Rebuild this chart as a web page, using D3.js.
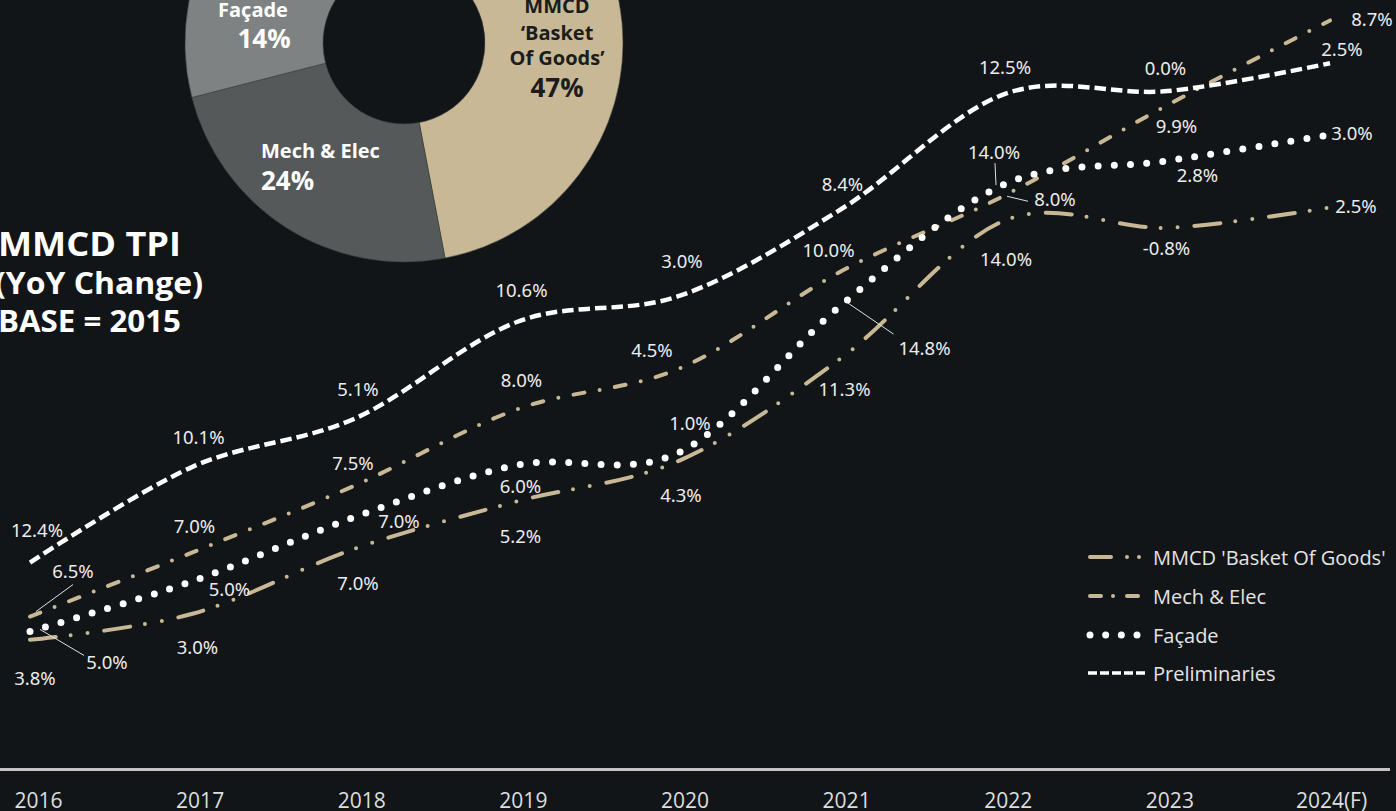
<!DOCTYPE html>
<html><head><meta charset="utf-8">
<script src="https://cdn.jsdelivr.net/npm/d3@7"></script>
<style>
html,body{margin:0;padding:0;background:#121517;overflow:hidden;}
svg{display:block;}
</style></head><body>
<svg id="chart" width="1396" height="811"></svg>
<script>
// ---------- data ----------
const years = ["2016","2017","2018","2019","2020","2021","2022","2023","2024(F)"];
const seriesNames = ["MMCD 'Basket Of Goods'","Mech & Elec","Façade","Preliminaries"];
// cumulative index (base 2015 = 100)
const basketValues = [104.0,106.8,113.8,118.9,123.3,134.4,149.1,148.3,150.5];
const mechValues   = [106.5,113.4,120.6,128.8,133.2,143.7,151.8,161.5,170.6];
const facadeValues = [104.9,110.3,117.2,122.8,124.2,140.1,153.0,155.5,158.3];
const prelimValues = [112.3,122.6,127.8,138.2,141.0,150.4,162.7,163.0,166.0];
// YoY labels
const basketLabels = ["3.8%","3.0%","7.0%","5.2%","4.3%","11.3%","14.0%","-0.8%","2.5%"];
const mechLabels   = ["6.5%","7.0%","7.5%","8.0%","4.5%","10.0%","8.0%","9.9%","8.7%"];
const facadeLabels = ["5.0%","5.0%","7.0%","6.0%","1.0%","14.8%","14.0%","2.8%","3.0%"];
const prelimLabels = ["12.4%","10.1%","5.1%","10.6%","3.0%","8.4%","12.5%","0.0%","2.5%"];
// cost share donut
const shareCategories = ["MMCD ‘Basket Of Goods’","Mech & Elec","Façade","Preliminaries"];
const shareValues = [47,24,14,15];

// ---------- layout / style ----------
const bg = "#121517", tan = "#c8b896";
const svg = d3.select("#chart");
svg.append("rect").attr("width",1396).attr("height",811).attr("fill",bg);

// donut
const donutCx = 404, donutCy = 43;
const pie = d3.pie().sort(null).value(d=>d);
const arc = d3.arc().innerRadius(81).outerRadius(219);
const sliceColors = [tan,"#56595a","#7f8283","#a6a9aa"];
const dg = svg.append("g").attr("transform",`translate(${donutCx},${donutCy})`);
dg.selectAll("path").data(pie(shareValues)).join("path")
  .attr("d",arc).attr("fill",(d,i)=>sliceColors[i])
  .attr("stroke","#3c3f40").attr("stroke-width",0.6);

const bold = "'Open Sans', 'Noto Sans', sans-serif";
function txt(x,y,s,size,fill,anchor){
  return svg.append("text").attr("x",x).attr("y",y).text(s)
    .attr("font-family",bold).attr("font-weight",700).attr("font-size",size)
    .attr("fill",fill).attr("text-anchor",anchor||"start");
}
txt(253,17,"Façade",20,"#fff","middle");
txt(264,48,"14%",26,"#fff","middle");
txt(261,158,"Mech & Elec",20,"#fff");
txt(261,190,"24%",26,"#fff");
txt(557,13,"MMCD",20,"#1b1c1d","middle");
txt(557,40,"‘Basket",20,"#1b1c1d","middle");
txt(557,65,"Of Goods’",20,"#1b1c1d","middle");
txt(557,97,"47%",26,"#1b1c1d","middle");

// title
txt(-2,256,"MMCD TPI",34,"#fff").attr("textLength",183).attr("lengthAdjust","spacingAndGlyphs");
txt(-5,294,"(YoY Change)",30,"#fff").attr("textLength",208).attr("lengthAdjust","spacingAndGlyphs");
txt(-2,332,"BASE = 2015",30,"#fff").attr("textLength",183).attr("lengthAdjust","spacingAndGlyphs");

// scales
const x = d3.scalePoint().domain(years).range([30,1330]);
const xAxisScale = d3.scalePoint().domain(years).range([38,1331]);
const y = d3.scaleLinear().domain([100,170]).range([677,26]);

// axis
svg.append("line").attr("x1",0).attr("x2",1390).attr("y1",769.5).attr("y2",769.5)
  .attr("stroke","#c4c4c4").attr("stroke-width",3);
const ax = svg.append("g").attr("transform","translate(0,769)")
  .call(d3.axisBottom(xAxisScale).tickSize(0).tickPadding(0));
ax.select(".domain").remove();
ax.selectAll("text").attr("y",39).attr("dy",0)
  .attr("font-family","'Open Sans', sans-serif").attr("font-weight",400)
  .attr("font-size",21).attr("fill","#dedede");

// series
const series = [
  {name:seriesNames[0], values:basketValues, labels:basketLabels, color:tan, width:4, dash:"26,15,0,17,0,17", cap:"round",
   off:[[5,38],[5,33],[3,34],[3,34],[1,34],[2,31],[1,38],[-1,20],[26,-2]]},
  {name:seriesNames[1], values:mechValues, labels:mechLabels, color:tan, width:4, dash:"11,15.5,0,15.5", cap:"round",
   off:[[43,-46],[2,-27],[-2,-23],[4,-30],[-28,-19],[-14,-21],[50,3],[9,20],[42,-2]]},
  {name:seriesNames[2], values:facadeValues, labels:facadeLabels, color:"#ffffff", width:7, dash:"0,16.2", cap:"round",
   off:[[77,30],[37,7],[44,3],[3,21],[10,-29],[82,43],[-11,-33],[30,14],[22,-2]]},
  {name:seriesNames[3], values:prelimValues, labels:prelimLabels, color:"#ffffff", width:4.5, dash:"11.5,5", cap:"butt",
   off:[[7,-33],[6,-30],[3,-30],[4,-32],[2,-35],[0,-25],[0,-27],[-2,-24],[12,-15]]}
];
// leader lines: [series index, year index, start offset, end offset]
const leaders = [
  [1,0,[6,-5],[43,-32]],
  [2,0,[10,-2],[54,24]],
  [2,5,[4,-2],[51,30]],
  [2,6,[-9,1],[-10,-21]],
  [1,6,[2,1],[23,6]]
];

const line = d3.line().x((d,i)=>x(years[i])).y(d=>y(d)).curve(d3.curveCardinal.tension(0));
const lg = svg.append("g");
series.forEach(s=>{
  lg.append("path").attr("d",line(s.values)).attr("fill","none")
    .attr("stroke",s.color).attr("stroke-width",s.width)
    .attr("stroke-dasharray",s.dash).attr("stroke-linecap",s.cap);
});

leaders.forEach(([si,i,a,b])=>{
  const px = x(years[i]), py = y(series[si].values[i]);
  svg.append("line").attr("x1",px+a[0]).attr("y1",py+a[1]).attr("x2",px+b[0]).attr("y2",py+b[1])
    .attr("stroke","#e0e0e0").attr("stroke-width",1);
});

const labelFont = "'Noto Sans', 'DejaVu Sans', sans-serif";
series.forEach(s=>{
  svg.append("g").selectAll("text").data(s.labels).join("text")
    .attr("x",(d,i)=>x(years[i])+s.off[i][0])
    .attr("y",(d,i)=>y(s.values[i])+s.off[i][1])
    .attr("text-anchor","middle").attr("dominant-baseline","central")
    .attr("font-family",labelFont).attr("font-size",18.5).attr("fill","#ececec")
    .text(d=>d);
});

// legend
const legendRows = [557,596,635,673];
const legendDash = [
  {x1:1090,x2:1140,dash:"21,16,0,12,0,100"},
  {x1:1090,x2:1138,dash:"11,12,0,14,11,100"},
  {x1:1090,x2:1138,dash:"0,15.67"},
  {x1:1088,x2:1147,dash:"9,3"}
];
const leg = svg.append("g");
series.forEach((s,i)=>{
  const ld = legendDash[i];
  leg.append("line").attr("x1",ld.x1).attr("x2",ld.x2)
    .attr("y1",legendRows[i]).attr("y2",legendRows[i])
    .attr("stroke",s.color).attr("stroke-width",i===2?7:(i===3?3.5:4))
    .attr("stroke-dasharray",ld.dash).attr("stroke-linecap",s.cap);
  leg.append("text").attr("x",1153).attr("y",legendRows[i])
    .attr("dominant-baseline","central")
    .attr("font-family","'Open Sans', sans-serif").attr("font-size",20)
    .attr("fill","#e4e4e4").text(s.name);
});
</script>
</body></html>
